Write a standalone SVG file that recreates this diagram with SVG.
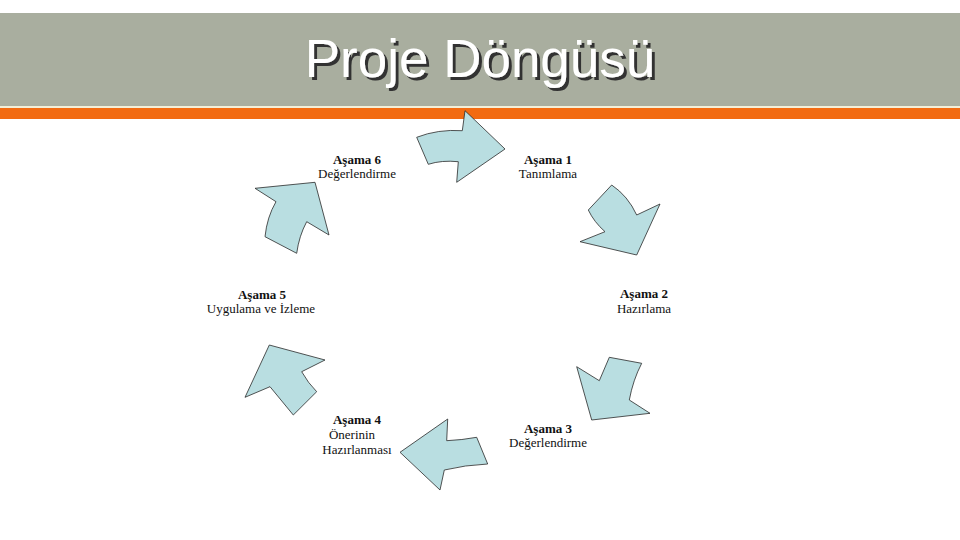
<svg xmlns="http://www.w3.org/2000/svg" width="960" height="540" viewBox="0 0 960 540">
<style>
.arrow{fill:#B9DEE1;stroke:#2a2a2a;stroke-width:0.8;stroke-linejoin:miter}
.lbl{font-family:"Liberation Serif","Times New Roman",serif;font-size:13px;fill:#111;text-anchor:middle}
.b{font-weight:bold}
.title{font-family:"Liberation Sans",Arial,sans-serif;font-size:53px;text-anchor:middle;fill:#ffffff}
</style>
<defs>
<filter id="shadow" x="-5%" y="-20%" width="110%" height="150%">
<feOffset in="SourceAlpha" dx="2.5" dy="2.5" result="off"/>
<feFlood flood-color="#333333"/>
<feComposite in2="off" operator="in" result="sh"/>
<feMerge><feMergeNode in="sh"/><feMergeNode in="SourceGraphic"/></feMerge>
</filter>
</defs>
<rect x="0" y="0" width="960" height="540" fill="#ffffff"/>
<g id="header">
<rect x="0" y="13" width="960" height="93" fill="#A9AE9F"/>
<rect x="0" y="106" width="960" height="2" fill="#F3EFD8"/>
<rect x="0" y="108" width="960" height="11" fill="#F26B12"/>
<text class="title" x="480" y="77" filter="url(#shadow)">Proje Döngüsü</text>
</g>
<g id="connectors">
<path id="arrow-6-1" class="arrow" d="M416.7,137.3 Q438,129 462.3,130.7 L465,110.7 L505,149 L456.7,182.3 L458.3,161.7 Q441.7,160 428.3,164.3 Z"/>
<path id="arrow-1-2" class="arrow" d="M611.7,185 Q628,196 636.7,215 L660,204 L636.7,255 L580,241.7 L605,231.7 Q594,222 588.3,210 Z"/>
<path id="arrow-2-3" class="arrow" d="M609.3,357.3 L641.7,363.3 Q633,380 629.3,400 L650,413.3 L591.7,420 L576.7,366.7 L599.3,380.7 Z"/>
<path id="arrow-3-4" class="arrow" d="M447.7,419 L446.7,440.7 Q462,440 476.7,437.3 L487.7,464 Q465,465 444.3,470 L440,490 L400,452.3 Z"/>
<path id="arrow-4-5" class="arrow" d="M269.3,345 L325,360 L301.7,371.7 Q308,383 316.7,391.7 L293.3,415 L270,386.7 L245,397.3 Z"/>
<path id="arrow-5-6" class="arrow" d="M255,188.3 L315,182.3 L329,235 L306.7,221.7 Q299,236 296.7,253.3 L265,236.7 Q267,217 276,201.7 Z"/>
</g>
<g id="stage1">
<text class="lbl b" x="548" y="164">Aşama 1</text>
<text class="lbl" x="548" y="178">Tanımlama</text>
</g>
<g id="stage2">
<text class="lbl b" x="644" y="298">Aşama 2</text>
<text class="lbl" x="644" y="313">Hazırlama</text>
</g>
<g id="stage3">
<text class="lbl b" x="548" y="433">Aşama 3</text>
<text class="lbl" x="548" y="447">Değerlendirme</text>
</g>
<g id="stage4">
<text class="lbl b" x="357" y="424">Aşama 4</text>
<text class="lbl" x="352" y="439">Önerinin</text>
<text class="lbl" x="357" y="454">Hazırlanması</text>
</g>
<g id="stage5">
<text class="lbl b" x="262" y="299">Aşama 5</text>
<text class="lbl" x="261" y="313">Uygulama ve İzleme</text>
</g>
<g id="stage6">
<text class="lbl b" x="357" y="164">Aşama 6</text>
<text class="lbl" x="357" y="178">Değerlendirme</text>
</g>
</svg>
